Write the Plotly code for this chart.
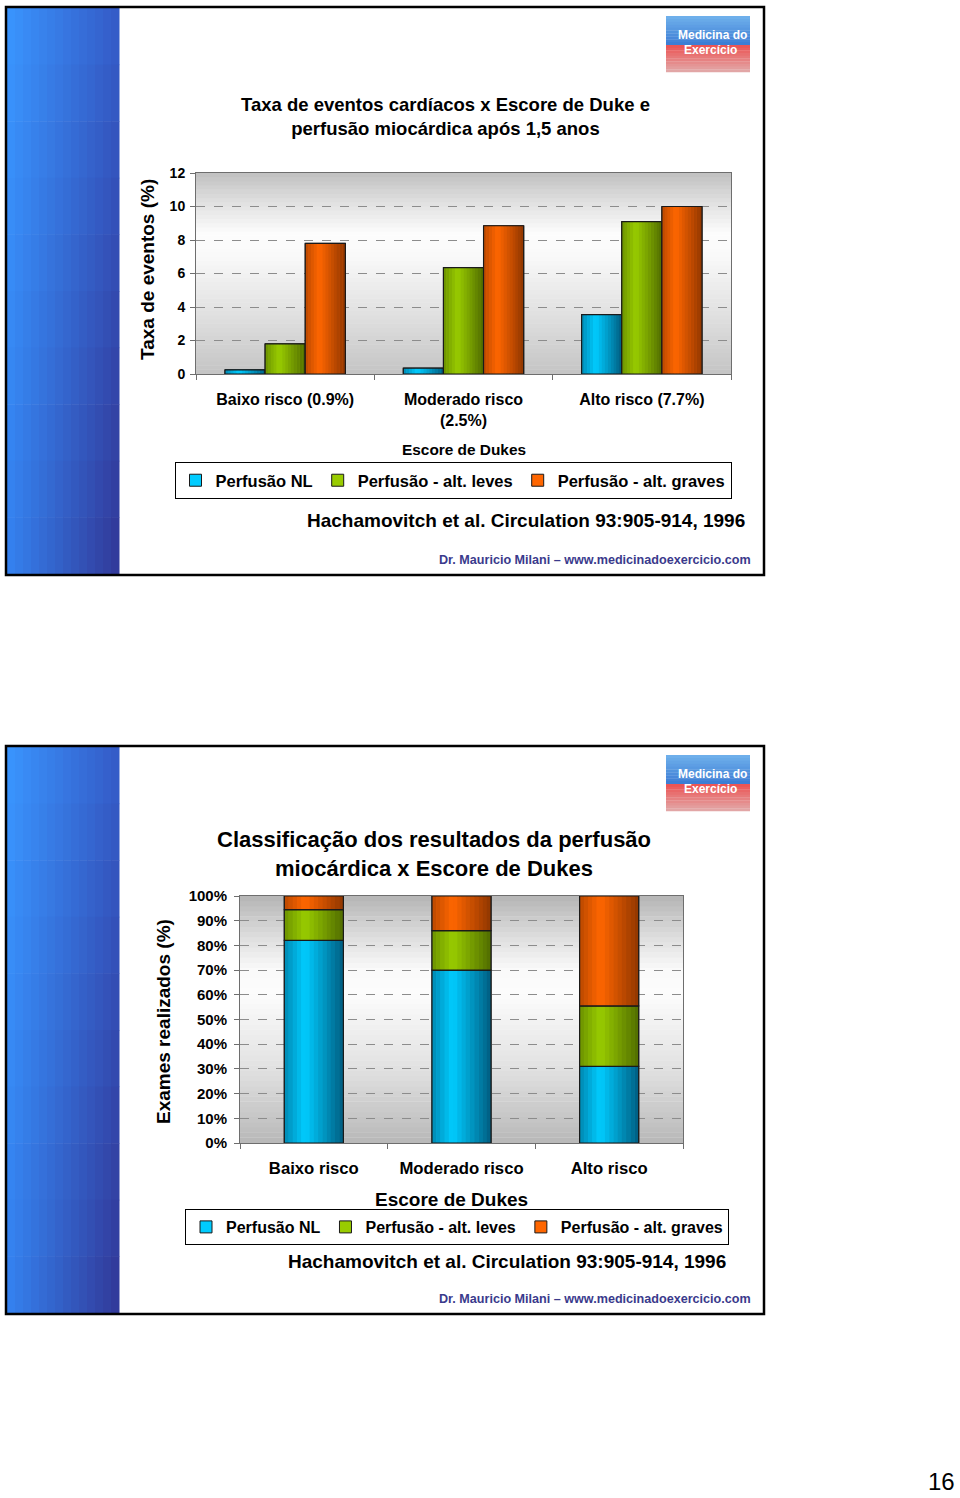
import numpy as np
import plotly.graph_objects as go

W, H = 960, 1498
FONT = "Liberation Sans, Arial, sans-serif"

# ---------------- data ----------------
cats1 = ["Baixo risco (0.9%)", "Moderado risco<br>(2.5%)", "Alto risco (7.7%)"]
series_names = ["Perfusão NL", "Perfusão - alt. leves", "Perfusão - alt. graves"]
perf_nl_1 = [0.25, 0.35, 3.55]
perf_leves_1 = [1.8, 6.35, 9.1]
perf_graves_1 = [7.8, 8.85, 10.0]

cats2 = ["Baixo risco", "Moderado risco", "Alto risco"]
perf_nl_2 = [82.0, 70.0, 31.0]
perf_leves_2 = [12.5, 16.0, 24.5]
perf_graves_2 = [5.5, 14.0, 44.5]

y1_ticks = [0, 2, 4, 6, 8, 10, 12]
y2_ticks = [0, 10, 20, 30, 40, 50, 60, 70, 80, 90, 100]
y2_ticklabels = ["%d%%" % v for v in y2_ticks]

# ---------------- style ----------------
bright = [(0, 204, 255), (153, 204, 0), (255, 102, 0)]
dark = [(0, 55, 85), (55, 75, 0), (105, 38, 0)]


def px(x):
    return x / W


def py(y):
    return 1 - y / H


def rgb(c):
    return "rgb(%d,%d,%d)" % tuple(int(round(v)) for v in c)


def mix(a, b, t):
    return tuple(a[i] + (b[i] - a[i]) * t for i in range(3))


def shade(t):
    # brightness profile across a bar (0 = left, 1 = right)
    if t < 0.35:
        return 0.55 + 0.45 * (t / 0.35)
    return 1.0 - 0.75 * ((t - 0.35) / 0.65)


fig = go.Figure()
NSTRIP = 14


def add_bar(x, y, base, idx, offset, width, xaxis, yaxis, legend):
    common = dict(x=x, y=y, base=base, xaxis=xaxis, yaxis=yaxis, hoverinfo="skip")
    fig.add_trace(go.Bar(name=series_names[idx], legend=legend, offset=offset, width=width,
                         marker=dict(color=rgb(bright[idx]), line=dict(color="#1a1a1a", width=1)),
                         showlegend=True, **common))
    sw = width / NSTRIP
    for i in range(NSTRIP):
        t = (i + 0.5) / NSTRIP
        col = mix(dark[idx], bright[idx], shade(t))
        fig.add_trace(go.Bar(offset=offset + i * sw, width=sw * (1.08 if i < NSTRIP - 1 else 1.0),
                             marker=dict(color=rgb(col), line=dict(width=0)),
                             showlegend=False, **common))
    fig.add_trace(go.Bar(offset=offset, width=width,
                         marker=dict(color="rgba(0,0,0,0)", line=dict(color="#1a1a1a", width=1.2)),
                         showlegend=False, **common))


# chart 1 (grouped)
w1 = 0.225
vals1 = [perf_nl_1, perf_leves_1, perf_graves_1]
for k, v in enumerate(vals1):
    add_bar(cats1, v, None, k, -1.5 * w1 + k * w1, w1, "x", "y", "legend")

# chart 2 (stacked 100%)
w2 = 0.40
vals2 = np.array([perf_nl_2, perf_leves_2, perf_graves_2])
bases2 = np.vstack([np.zeros(3), np.cumsum(vals2, axis=0)[:-1]])
for k in range(3):
    add_bar(cats2, list(vals2[k]), list(bases2[k]), k, -w2 / 2, w2, "x2", "y2", "legend2")

shapes = []
annotations = []


def rect(x0, y0, x1, y1, fill, layer="below"):
    shapes.append(dict(type="rect", xref="paper", yref="paper", x0=x0, y0=y0, x1=x1, y1=y1,
                       fillcolor=fill, layer=layer, line=dict(width=0)))


def ann(text, x, y, size, color="#000", xanchor="center", textangle=0):
    annotations.append(dict(text=text, x=px(x), y=py(y), xref="paper", yref="paper",
                            xanchor=xanchor, yanchor="middle", showarrow=False, textangle=textangle,
                            font=dict(family=FONT, size=size, color=color)))


def bg_gradient(xdom, ydom, stops, n=48):
    for i in range(n):
        h0, h1 = i / n, (i + 1) / n
        hm = (h0 + h1) / 2
        for j in range(len(stops) - 1):
            if stops[j][0] <= hm <= stops[j + 1][0]:
                a, b = stops[j], stops[j + 1]
                t = (hm - a[0]) / (b[0] - a[0])
                g = a[1] + (b[1] - a[1]) * t
                break
        yb = ydom[0] + (ydom[1] - ydom[0]) * h0
        yt = ydom[0] + (ydom[1] - ydom[0]) * h1 + 0.0003
        rect(xdom[0], yb, xdom[1], yt, rgb((g, g, g)))


def slide(offset):
    nx, ny = 14, 10
    x0, x1 = 7, 119
    y0, y1 = 8 + offset, 574 + offset
    tl, tr = (58, 150, 255), (52, 92, 200)
    bl, br = (52, 130, 240), (50, 55, 150)
    for i in range(nx):
        for j in range(ny):
            tx = (i + 0.5) / nx
            ty = (j + 0.5) / ny
            c = mix(mix(tl, tr, tx), mix(bl, br, tx), ty)
            rect(px(x0 + (x1 - x0) * i / nx), py(y0 + (y1 - y0) * (j + 1) / ny + 0.5),
                 px(x0 + (x1 - x0) * (i + 1) / nx + 0.5), py(y0 + (y1 - y0) * j / ny), rgb(c))
    shapes.append(dict(type="rect", xref="paper", yref="paper", x0=px(6), x1=px(764),
                       y0=py(575 + offset), y1=py(7 + offset), line=dict(color="#000", width=2.5),
                       fillcolor="rgba(0,0,0,0)", layer="above"))
    # logo
    lx0, lx1 = 666, 750
    ly = 16 + offset
    nb = 10
    for j in range(nb):
        c = mix((110, 175, 235), (55, 120, 210), j / nb)
        rect(px(lx0), py(ly + 29 * (j + 1) / nb + 0.3), px(lx1), py(ly + 29 * j / nb), rgb(c))
    for j in range(nb):
        c = mix((235, 85, 85), (225, 175, 175), j / nb)
        rect(px(lx0), py(ly + 29 + 27 * (j + 1) / nb + 0.3), px(lx1), py(ly + 29 + 27 * j / nb), rgb(c))
    ann("<b>Medicina do</b>", 712, ly + 19, 12, "white")
    ann("<b>Exercício</b>", 710, ly + 34, 12, "white")
    ann("<b>Dr. Mauricio Milani – www.medicinadoexercicio.com</b>", 753, 560 + offset, 12.6, "#3a3a8c",
        xanchor="right")


slide(0)
slide(739)

x1dom = [px(196), px(731)]
y1dom = [py(374), py(173)]
x2dom = [px(240), px(683)]
y2dom = [py(1143), py(896)]

bg_gradient(x1dom, y1dom, [(0, 196), (0.3, 225), (0.6, 250), (0.7, 252), (0.85, 225), (1.0, 192)])
bg_gradient(x2dom, y2dom, [(0, 184), (0.3, 225), (0.6, 252), (0.7, 250), (0.85, 218), (1.0, 180)])

ann("<b>Taxa de eventos cardíacos x Escore de Duke e<br>perfusão miocárdica após 1,5 anos</b>", 445, 116, 18.5)
ann("<b>Taxa de eventos (%)</b>", 148, 270, 19, textangle=-90)
ann("<b>Escore de Dukes</b>", 464, 449, 15.4)
ann("<b>Hachamovitch et al. Circulation 93:905-914, 1996</b>", 747, 521, 19, xanchor="right")
ann("<b>Classificação dos resultados da perfusão<br>miocárdica x Escore de Dukes</b>", 434, 854, 22)
ann("<b>Exames realizados (%)</b>", 163, 1022, 19, textangle=-90)
ann("<b>Escore de Dukes</b>", 451, 1199, 19)
ann("<b>Hachamovitch et al. Circulation 93:905-914, 1996</b>", 728, 1261, 19, xanchor="right")
ann("16", 957, 1481, 24, xanchor="right")

axis_common = dict(showline=True, linecolor="#6e6e6e", linewidth=1, mirror=True, zeroline=False,
                   automargin=False)

fig.update_layout(
    width=W, height=H, margin=dict(l=0, r=0, t=0, b=0, pad=0, autoexpand=False),
    paper_bgcolor="white", plot_bgcolor="rgba(0,0,0,0)",
    barmode="overlay",
    font=dict(family=FONT, color="#000"),
    shapes=shapes, annotations=annotations,
    xaxis=dict(domain=x1dom, anchor="y", type="category", showgrid=False, ticks="outside",
               tickson="boundaries", ticklen=5, tickcolor="#6e6e6e", ticklabelstandoff=11,
               tickfont=dict(family=FONT, size=16, weight="bold"), **axis_common),
    yaxis=dict(domain=y1dom, anchor="x", range=[0, 12], tickvals=y1_ticks, ticks="outside", ticklen=5,
               tickcolor="#6e6e6e", showgrid=True, gridcolor="#8c8c8c", griddash="dash", gridwidth=1,
               ticklabelstandoff=2,
               tickfont=dict(family=FONT, size=14, weight="bold"), **axis_common),
    xaxis2=dict(domain=x2dom, anchor="y2", type="category", showgrid=False, ticks="outside",
                tickson="boundaries", ticklen=5, tickcolor="#6e6e6e", ticklabelstandoff=10,
                tickfont=dict(family=FONT, size=16.7, weight="bold"), **axis_common),
    yaxis2=dict(domain=y2dom, anchor="x2", range=[0, 100], tickvals=y2_ticks, ticktext=y2_ticklabels,
                ticks="outside", ticklen=5, tickcolor="#6e6e6e", showgrid=True, gridcolor="#8c8c8c",
                griddash="dash", gridwidth=1, ticklabelstandoff=4,
                tickfont=dict(family=FONT, size=15, weight="bold"), **axis_common),
    legend=dict(orientation="h", x=px(453), xanchor="center", y=py(462), yanchor="top",
                bgcolor="white", bordercolor="#000", borderwidth=1,
                font=dict(family=FONT, size=16.5, weight="bold"), itemwidth=30, tracegroupgap=0),
    legend2=dict(orientation="h", x=px(457), xanchor="center", y=py(1209), yanchor="top",
                 bgcolor="white", bordercolor="#000", borderwidth=1,
                 font=dict(family=FONT, size=16, weight="bold"), itemwidth=30, tracegroupgap=0),
)

fig.write_html("out.html")
